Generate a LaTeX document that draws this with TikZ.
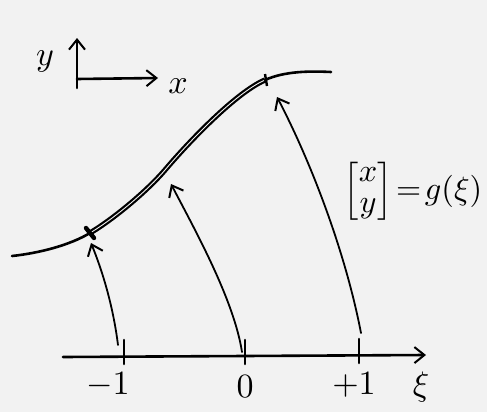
\documentclass[tikz,border=0pt]{standalone}
\usepackage{amsmath}
\usetikzlibrary{arrows.meta}
\definecolor{paper}{gray}{0.95}
\tikzset{
  ink/.style={line width=1.3pt, line cap=round, line join=round},
  thin ink/.style={line width=0.9pt, line cap=round},
  barb/.style={-{Straight Barb[length=5pt,width=8pt,line width=1pt]}},
  dbl/.style={line width=1.1pt, double=paper, double distance=0.45pt},
  lbl/.style={scale=1.7, inner sep=0pt},
}
\begin{document}
\begin{tikzpicture}[x=0.5pt,y=-0.5pt]
\fill[paper] (0,0) rectangle (487,412);
\useasboundingbox (0,0) rectangle (487,412);
% curve points
\coordinate (cl) at (12,256);
\coordinate (p1) at (90,233);
\coordinate (pm) at (165,170);
\coordinate (p3) at (265,80);
\coordinate (cr) at (331,72);
% curve
\draw[ink] (cl) .. controls (40,253) and (70,245) .. (p1);
\draw[dbl] (p1) .. controls (115,218) and (148,190) .. (pm)
               .. controls (187,144) and (235,93) .. (p3);
\draw[ink] (p3) .. controls (285,71) and (310,71) .. (cr);
% marks on curve
\draw[line width=2.2pt, line cap=round] (86,228) -- (94,238);
\draw[line width=1.2pt] (265,74) -- (267,86);
% xi axis
\coordinate (al) at (63,357);
\coordinate (ar) at (426,355);
\draw[ink, barb] (al) -- (ar);
\coordinate (t1) at (124,356);
\coordinate (t0) at (245,356);
\coordinate (t2) at (359,355);
\foreach \t in {t1,t0,t2} \draw[ink] ([yshift=8pt]\t) -- ([yshift=-4pt]\t);
\node[lbl] (lm1) at (108,385) {$-1$};
\node[lbl] (l0) at (245,387) {$0$};
\node[lbl] (lp1) at (354,385) {$+1$};
\node[lbl] (lxi) at (421,387) {$\xi$};
% mapping arrows
\coordinate (a1s) at (118,345);
\coordinate (a1e) at (91,243);
\coordinate (a2s) at (242,352);
\coordinate (a2e) at (171,184);
\coordinate (a3s) at (361,333);
\coordinate (a3e) at (277,97);
\draw[thin ink, barb] (a1s) .. controls (113,305) and (102,270) .. (a1e);
\draw[thin ink, barb] (a2s) .. controls (234,300) and (195,230) .. (a2e);
\draw[thin ink, barb] (a3s) .. controls (345,250) and (310,160) .. (a3e);
% xy axes icon
\coordinate (o) at (77,79);
\coordinate (yb) at (77,88);
\coordinate (yt) at (77,38);
\coordinate (xe) at (158,78);
\draw[ink, barb] (yb) -- (yt);
\draw[ink, barb] (o) -- (xe);
\node[lbl, anchor=base] (ly) at (45,65) {$y$};
\node[lbl, anchor=base] (lx) at (178,93) {$x$};
% equation
\node[lbl, anchor=west, scale=0.95] (eq) at (343,191)
  {$\renewcommand{\arraystretch}{0.8}\begin{bmatrix} x\\ y\end{bmatrix}\!=\! g(\xi)$};
\end{tikzpicture}
\end{document}
